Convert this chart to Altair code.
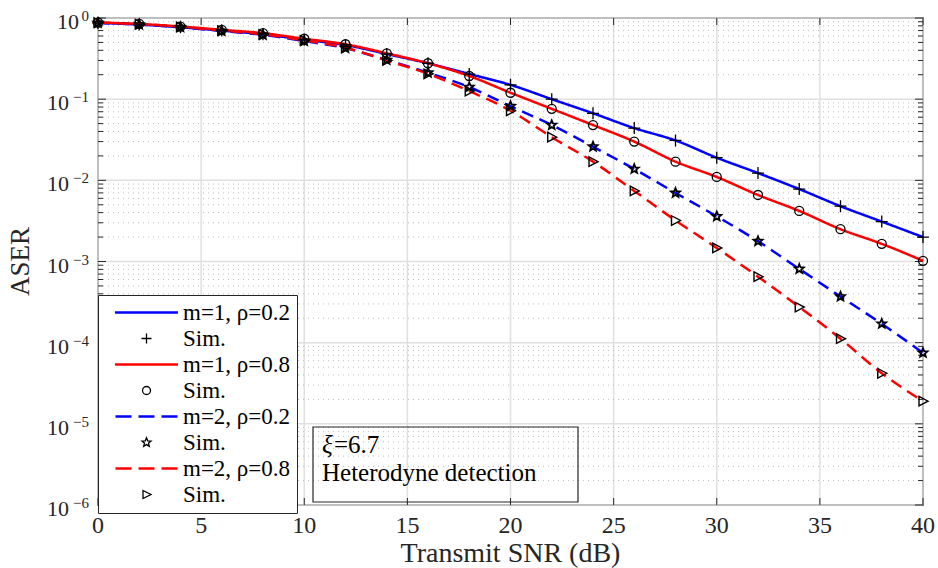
import json
import altair as alt
import numpy as np
import pandas as pd

# ---------------- data ----------------
snr_db = [0, 2, 4, 6, 8, 10, 12, 14, 16, 18, 20, 22, 24, 26, 28, 30, 32, 34, 36, 38, 40]
aser_m1_rho02 = [0.87, 0.83, 0.77, 0.70, 0.63, 0.54, 0.465, 0.36, 0.277, 0.204, 0.15, 0.10,
                 0.067, 0.044, 0.031, 0.019, 0.0123, 0.0078, 0.0048, 0.0031, 0.0020]
aser_m1_rho08 = [0.88, 0.845, 0.785, 0.715, 0.65, 0.555, 0.475, 0.367, 0.277, 0.193, 0.12, 0.076,
                 0.048, 0.030, 0.017, 0.011, 0.0066, 0.0042, 0.0025, 0.00165, 0.00102]
aser_m2_rho02 = [0.87, 0.83, 0.77, 0.69, 0.62, 0.52, 0.424, 0.304, 0.212, 0.141, 0.082, 0.048,
                 0.026, 0.0138, 0.0070, 0.0036, 0.00178, 0.00081, 0.00037, 0.000171, 7.5e-5]
aser_m2_rho08 = [0.88, 0.84, 0.78, 0.70, 0.63, 0.53, 0.43, 0.30, 0.205, 0.126, 0.072, 0.034,
                 0.017, 0.0074, 0.0032, 0.00147, 0.00065, 0.000275, 0.000112, 4.2e-5, 1.9e-5]

legend_labels = ["m=1, ρ=0.2", "Sim.", "m=1, ρ=0.8", "Sim.",
                 "m=2, ρ=0.2", "Sim.", "m=2, ρ=0.8", "Sim."]
y_major = [1e-6, 1e-5, 1e-4, 1e-3, 1e-2, 1e-1, 1.0]
y_minor = [k * 10.0 ** d for d in range(-6, 0) for k in range(2, 10)]
y_tick_base = ["10"] * 7
y_tick_exp = ["−6", "−5", "−4", "−3", "−2", "−1", "0"]
x_major = [0, 5, 10, 15, 20, 25, 30, 35, 40]
x_tick_text = ["0", "5", "10", "15", "20", "25", "30", "35", "40"]
annotation_symbol = "ξ"
annotation_value = "=6.7"
annotation_line2 = "Heterodyne detection"
x_title = "Transmit SNR (dB)"
y_title = "ASER"

# ---------------- styling ----------------
W, H = 825, 487
FONT = "Liberation Serif"
INK = "#262626"
BLUE = "#0000ff"
RED = "#ff0000"
DASH = [12, 7]
GRID = "#e0e0e0"

xs = alt.Scale(domain=[0, 40], nice=False, zero=False)
ys = alt.Scale(type="log", domain=[1e-6, 1], nice=False)

minor_df = pd.DataFrame({"v": y_minor})
major_df = pd.DataFrame({"v": y_major})
xmaj_df = pd.DataFrame({"v": x_major})
one_df = pd.DataFrame({"t": [0]})

# ---------- grid ----------
grid_major_y = alt.Chart(major_df).mark_rule(color=GRID, strokeWidth=1.5).encode(
    y=alt.Y("v:Q", scale=ys, axis=None), x=alt.value(0), x2=alt.value(W))
grid_major_x = alt.Chart(xmaj_df).mark_rule(color=GRID, strokeWidth=1.5).encode(
    x=alt.X("v:Q", scale=xs, axis=None), y=alt.value(0), y2=alt.value(H))
grid_minor = alt.Chart(minor_df).mark_rule(color="#bdbdbd", strokeDash=[1, 4], strokeWidth=1).encode(
    y=alt.Y("v:Q", scale=ys, axis=None), x=alt.value(0), x2=alt.value(W))


def ytick(df, x0, x1):
    return alt.Chart(df).mark_rule(color=INK, strokeWidth=1).encode(
        y=alt.Y("v:Q", scale=ys, axis=None), x=alt.value(x0), x2=alt.value(x1))


def xtick(df, y0, y1):
    return alt.Chart(df).mark_rule(color=INK, strokeWidth=1).encode(
        x=alt.X("v:Q", scale=xs, axis=None), y=alt.value(y0), y2=alt.value(y1))


ticks = [ytick(major_df, 0, 8), ytick(major_df, W - 8, W),
         ytick(minor_df, 0, 5), ytick(minor_df, W - 5, W),
         xtick(xmaj_df, H - 7, H), xtick(xmaj_df, 0, 7)]

# ---------- tick labels ----------
ylab_df = pd.DataFrame({"v": y_major, "base": y_tick_base, "exp": y_tick_exp})
ylab_exp = alt.Chart(ylab_df).mark_text(align="right", baseline="alphabetic", font=FONT,
                                        fontSize=15, color=INK, dy=3).encode(
    y=alt.Y("v:Q", scale=ys, axis=None), x=alt.value(-9), text="exp:N")
ylab_base_neg = alt.Chart(ylab_df).transform_filter("datum.v < 0.5").mark_text(
    align="right", baseline="alphabetic", font=FONT, fontSize=22, color=INK, dy=11).encode(
    y=alt.Y("v:Q", scale=ys, axis=None), x=alt.value(-29), text="base:N")
ylab_base_one = alt.Chart(ylab_df).transform_filter("datum.v >= 0.5").mark_text(
    align="right", baseline="alphabetic", font=FONT, fontSize=22, color=INK, dy=11).encode(
    y=alt.Y("v:Q", scale=ys, axis=None), x=alt.value(-19), text="base:N")

xlab_df = pd.DataFrame({"v": x_major, "t": x_tick_text})
xlab = alt.Chart(xlab_df).mark_text(align="center", baseline="middle", font=FONT,
                                    fontSize=24, color=INK).encode(
    x=alt.X("v:Q", scale=xs, axis=None), y=alt.value(H + 21), text="t:N")

x_title_mark = alt.Chart(one_df).mark_text(align="center", baseline="alphabetic", font=FONT,
                                           fontSize=28, color=INK).encode(
    x=alt.value(W / 2), y=alt.value(H + 57), text=alt.value(x_title))
y_title_mark = alt.Chart(one_df).mark_text(align="center", baseline="middle", font=FONT,
                                           fontSize=27, color=INK, angle=270).encode(
    x=alt.value(-77), y=alt.value(H / 2), text=alt.value(y_title))


# ---------- series ----------
def star_path(R, r, n=5):
    pts = []
    for k in range(2 * n):
        ang = -np.pi / 2 + k * np.pi / n
        rad = R if k % 2 == 0 else r
        pts.append((rad * np.cos(ang), rad * np.sin(ang)))
    return "M" + "L".join(f"{px:.3f},{py:.3f}" for px, py in pts) + "Z"


series_values = [aser_m1_rho02, aser_m1_rho08, aser_m2_rho02, aser_m2_rho08]
series_colors = [BLUE, RED, BLUE, RED]
series_dash = [[1, 0], [1, 0], DASH, DASH]
plus_path = "M-1,0H1M0,-1V1"
star_shape = star_path(0.95, 0.42)
tri_shape = "M-0.8,-0.95L1,0L-0.8,0.95Z"
sim_shapes = [plus_path, "circle", star_shape, tri_shape]
sim_sizes = [144, 81, 100, 100]
sim_widths = [1.3, 1.3, 1.8, 1.4]

line_layers = []
mark_layers = []
for i, vals in enumerate(series_values):
    df = pd.DataFrame({"snr": snr_db, "aser": vals})
    line_layers.append(
        alt.Chart(df).mark_line(color=series_colors[i], strokeWidth=2.5,
                                strokeDash=series_dash[i], interpolate="monotone").encode(
            x=alt.X("snr:Q", scale=xs, axis=None),
            y=alt.Y("aser:Q", scale=ys, axis=None)))
    mark_layers.append(
        alt.Chart(df).mark_point(shape=sim_shapes[i], size=sim_sizes[i], filled=False,
                                 stroke="black", strokeWidth=sim_widths[i], opacity=1).encode(
            x=alt.X("snr:Q", scale=xs, axis=None),
            y=alt.Y("aser:Q", scale=ys, axis=None)))

# ---------- annotation box ----------
ann_box = alt.Chart(one_df).mark_rect(fill="transparent", stroke=INK, strokeWidth=1.2).encode(
    x=alt.value(215), x2=alt.value(480), y=alt.value(409), y2=alt.value(484))
ann_sym = alt.Chart(one_df).mark_text(align="left", baseline="alphabetic", font=FONT,
                                      fontSize=25, fontStyle="italic", color="black").encode(
    x=alt.value(224), y=alt.value(435), text=alt.value(annotation_symbol))
ann_val = alt.Chart(one_df).mark_text(align="left", baseline="alphabetic", font=FONT,
                                      fontSize=25, color="black").encode(
    x=alt.value(236), y=alt.value(435), text=alt.value(annotation_value))
ann_l2 = alt.Chart(one_df).mark_text(align="left", baseline="alphabetic", font=FONT,
                                     fontSize=25, color="black").encode(
    x=alt.value(224), y=alt.value(463), text=alt.value(annotation_line2))

# ---------- legend (Vega legend with custom symbol paths) ----------
solid_path = "M-6.3,-0.25H6.3V0.25H-6.3Z"
dash_path = ("M-6.2,-0.25H-3V0.25H-6.2Z M-1.6,-0.25H1.6V0.25H-1.6Z "
             "M3,-0.25H6.2V0.25H3Z")
circle_path = "M0.8,0A0.8,0.8,0,1,1,-0.8,0A0.8,0.8,0,1,1,0.8,0Z"
tri_path = "M-0.7,-0.8L0.9,0L-0.7,0.8Z"
leg_shapes = [solid_path, plus_path, solid_path, circle_path,
              dash_path, star_path(0.95, 0.42), dash_path, tri_path]
leg_fills = [BLUE, "transparent", RED, "transparent", BLUE, "transparent", RED, "transparent"]
leg_strokes = ["transparent", "black", "transparent", "black",
               "transparent", "black", "transparent", "black"]
leg_keys = [str(i) for i in range(8)]
leg_df = pd.DataFrame({"key": leg_keys})
leg_label_expr = json.dumps(legend_labels, ensure_ascii=False) + "[toNumber(datum.value)]"


def make_legend():
    return alt.Legend(title=None, orient="none", legendX=0, legendY=277,
                      labelExpr=leg_label_expr, labelFont=FONT, labelFontSize=23,
                      labelColor="black", symbolStrokeWidth=1.3, symbolSize=100,
                      symbolOffset=31, labelOffset=25, padding=6, rowPadding=2,
                      strokeColor=INK, fillColor="white")


legend_layer = alt.Chart(leg_df).mark_point(opacity=1, size=100).encode(
    shape=alt.Shape("key:N", scale=alt.Scale(domain=leg_keys, range=leg_shapes), legend=make_legend()),
    fill=alt.Fill("key:N", scale=alt.Scale(domain=leg_keys, range=leg_fills), legend=make_legend()),
    stroke=alt.Stroke("key:N", scale=alt.Scale(domain=leg_keys, range=leg_strokes), legend=make_legend()),
).transform_filter("false")

chart = alt.layer(
    grid_major_y, grid_major_x, grid_minor, *ticks,
    ylab_exp, ylab_base_neg, ylab_base_one, xlab, x_title_mark, y_title_mark,
    *line_layers, *mark_layers, ann_box, ann_sym, ann_val, ann_l2, legend_layer
).properties(
    width=W, height=H,
    padding={"left": 98, "top": 18, "right": 15, "bottom": 63},
    autosize=alt.AutoSizeParams(type="none"),
    background="white",
).configure_view(stroke=INK, strokeWidth=1.5)

chart.save("out.html", embed_options={"renderer": "svg", "actions": False})
